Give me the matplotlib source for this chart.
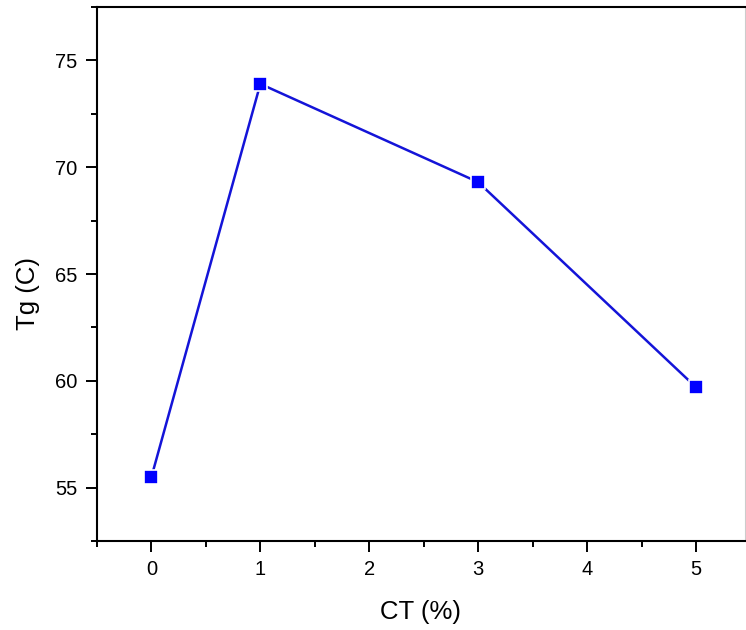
import matplotlib
matplotlib.use("Agg")
import matplotlib.pyplot as plt
from matplotlib.ticker import MultipleLocator

ct_percent = [0, 1, 3, 5]
tg_values = [55.5, 73.9, 69.3, 59.7]

plt.rcParams['font.family'] = ['Liberation Sans', 'DejaVu Sans']

fig = plt.figure(figsize=(7.46, 6.30), dpi=100)
ax = fig.add_axes([97 / 746, (630 - 541) / 630, (745 - 97) / 746, (541 - 7) / 630])

ax.plot(ct_percent, tg_values, color='#1414d8', lw=1.8,
        marker='s', markersize=10, markerfacecolor='#0000ff',
        markeredgecolor='white', markeredgewidth=1.2)

ax.set_xlim(-0.5, 5.45)
ax.set_ylim(52.5, 77.5)
ax.xaxis.set_major_locator(MultipleLocator(1))
ax.xaxis.set_minor_locator(MultipleLocator(0.5))
ax.yaxis.set_major_locator(MultipleLocator(5))
ax.yaxis.set_minor_locator(MultipleLocator(2.5))

ax.tick_params(which='both', direction='out', width=1.4, labelsize=14.5,
               top=False, right=False)
ax.tick_params(which='major', length=8, pad=6)
ax.tick_params(which='minor', length=4.5)

for side in ax.spines.values():
    side.set_linewidth(1.5)
ax.spines['right'].set_color('#cccccc')
ax.spines['right'].set_linewidth(0.8)

ax.set_xlabel('CT (%)', fontsize=18.5, va='center', ha='center')
ax.xaxis.set_label_coords(0.5, -0.133)
ax.set_ylabel('Tg (C)', fontsize=18.5, va='center', ha='center')
ax.yaxis.set_label_coords(-0.106, 0.464)

fig.savefig('out.png', dpi=100)
